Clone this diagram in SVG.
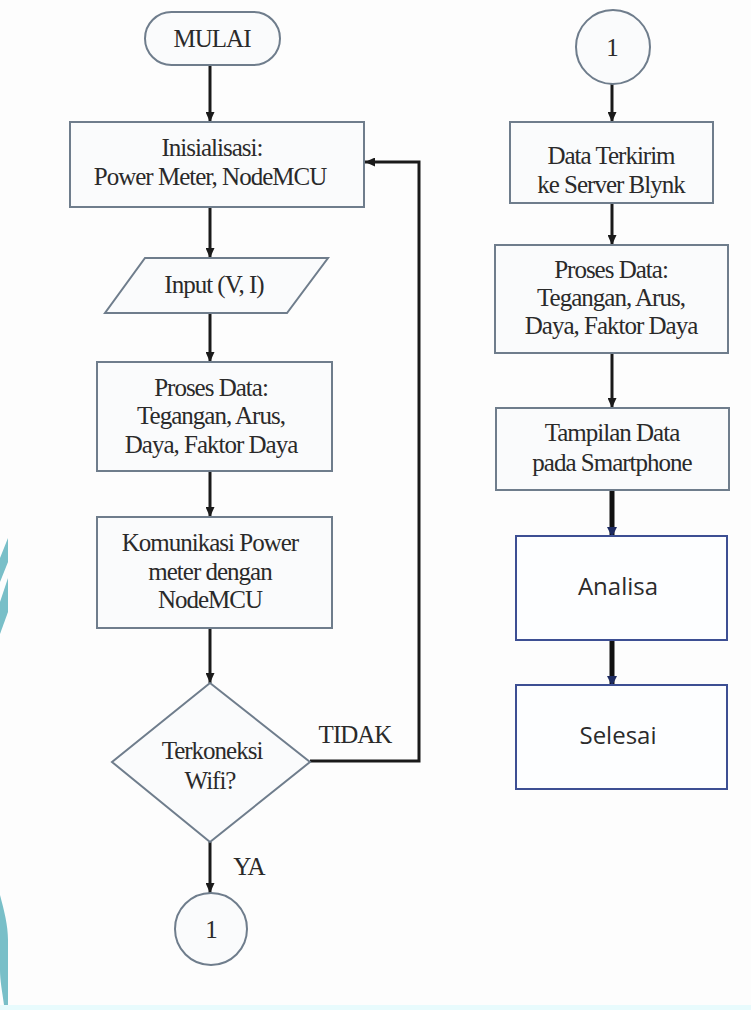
<svg xmlns="http://www.w3.org/2000/svg" width="751" height="1010" viewBox="0 0 751 1010">
<style>
.bg{fill:#fdfdfd}
.box{fill:#fafbfc;stroke:#6f7d8c;stroke-width:2}
.box2{fill:#fdfeff;stroke:#3d4f93;stroke-width:2}
.t{font-family:"Liberation Serif",serif;font-size:25px;letter-spacing:-1px;fill:#2a2a2a;text-anchor:middle}
.s{font-family:"Open Sans",sans-serif;font-size:24px;fill:#2b2b2b;text-anchor:middle}
.c{stroke:#1a1a1a;stroke-width:3;fill:none}
.thick{stroke:#111;stroke-width:5;fill:none}
.deco{fill:#79bfc8}
</style>
<defs>
<marker id="ah" markerUnits="userSpaceOnUse" markerWidth="10" markerHeight="9" refX="10" refY="4.5" orient="auto">
<path d="M0,0 L10,4.5 L0,9 z" fill="#1a1a1a"/>
</marker>
<marker id="ahb" markerUnits="userSpaceOnUse" markerWidth="10" markerHeight="10" refX="9" refY="5" orient="auto">
<path d="M0,0 L10,5 L0,10 z" fill="#1d2a60"/>
</marker>
</defs>
<rect class="bg" x="0" y="0" width="751" height="1010"/>
<rect x="0" y="1005" width="751" height="5" fill="#e8fbfd"/>
<g id="decoration">
<polygon class="deco" points="0,558 8,538 8,562 0,582"/>
<polygon class="deco" points="0,602 8,578 8,612 0,634"/>
<path class="deco" d="M0,895 C4,910 8,925 8,940 L8,1005 L4,1005 C2,990 0,980 0,970 Z"/>
</g>
<g id="connectors">
<path class="c" d="M210,65 V122" marker-end="url(#ah)"/>
<path class="c" d="M210,207 V258" marker-end="url(#ah)"/>
<path class="c" d="M210,313 V362" marker-end="url(#ah)"/>
<path class="c" d="M210,471 V517" marker-end="url(#ah)"/>
<path class="c" d="M210,628 V683" marker-end="url(#ah)"/>
<path class="c" d="M310,761 H419 V162 H365" marker-end="url(#ah)"/>
<path class="c" d="M210,842 V893" marker-end="url(#ah)"/>
<path class="c" d="M612,83 V122" marker-end="url(#ah)"/>
<path class="c" d="M612,203 V245" marker-end="url(#ah)"/>
<path class="c" d="M612,353 V408" marker-end="url(#ah)"/>
<path class="thick" d="M612,490 V536" marker-end="url(#ahb)"/>
<path class="thick" d="M612,640 V685" marker-end="url(#ahb)"/>
<text class="t" x="355" y="743">TIDAK</text>
<text class="t" x="249" y="875">YA</text>
</g>
<g id="mulai">
<rect class="box" x="145" y="12" width="135" height="53" rx="26.5"/>
<text class="t" x="212" y="47">MULAI</text>
</g>
<g id="inisialisasi">
<rect class="box" x="70" y="122" width="294" height="85"/>
<text class="t" x="212" y="156">Inisialisasi:</text>
<text class="t" x="210" y="185">Power Meter, NodeMCU</text>
</g>
<g id="input">
<polygon class="box" points="145,258 328,258 287,313 105,313"/>
<text class="t" x="214" y="293">Input (V, I)</text>
</g>
<g id="proses1">
<rect class="box" x="97" y="362" width="235" height="109"/>
<text class="t" x="211" y="396">Proses Data:</text>
<text class="t" x="211" y="424">Tegangan, Arus,</text>
<text class="t" x="211" y="453">Daya, Faktor Daya</text>
</g>
<g id="komunikasi">
<rect class="box" x="97" y="517" width="235" height="111"/>
<text class="t" x="210" y="551">Komunikasi Power</text>
<text class="t" x="210" y="580">meter  dengan</text>
<text class="t" x="210" y="608">NodeMCU</text>
</g>
<g id="terkoneksi">
<polygon class="box" points="210,683 310,762 210,842 112,762"/>
<text class="t" x="212" y="759">Terkoneksi</text>
<text class="t" x="210" y="789">Wifi?</text>
</g>
<g id="conn1a">
<circle class="box" cx="211" cy="929" r="36"/>
<text class="t" x="211" y="938">1</text>
</g>
<g id="conn1b">
<circle class="box" cx="613" cy="47" r="37"/>
<text class="t" x="612" y="56">1</text>
</g>
<g id="terkirim">
<rect class="box" x="510" y="122" width="203" height="81"/>
<text class="t" x="611" y="164">Data Terkirim</text>
<text class="t" x="611" y="193">ke Server Blynk</text>
</g>
<g id="proses2">
<rect class="box" x="495" y="245" width="233" height="108"/>
<text class="t" x="611" y="278">Proses Data:</text>
<text class="t" x="611" y="306">Tegangan, Arus,</text>
<text class="t" x="611" y="334">Daya, Faktor Daya</text>
</g>
<g id="tampilan">
<rect class="box" x="496" y="408" width="233" height="82"/>
<text class="t" x="612" y="441">Tampilan Data</text>
<text class="t" x="612" y="471">pada Smartphone</text>
</g>
<g id="analisa">
<rect class="box2" x="516" y="536" width="211" height="104"/>
<text class="s" x="618" y="595">Analisa</text>
</g>
<g id="selesai">
<rect class="box2" x="516" y="685" width="211" height="104"/>
<text class="s" x="618" y="744">Selesai</text>
</g>
</svg>
